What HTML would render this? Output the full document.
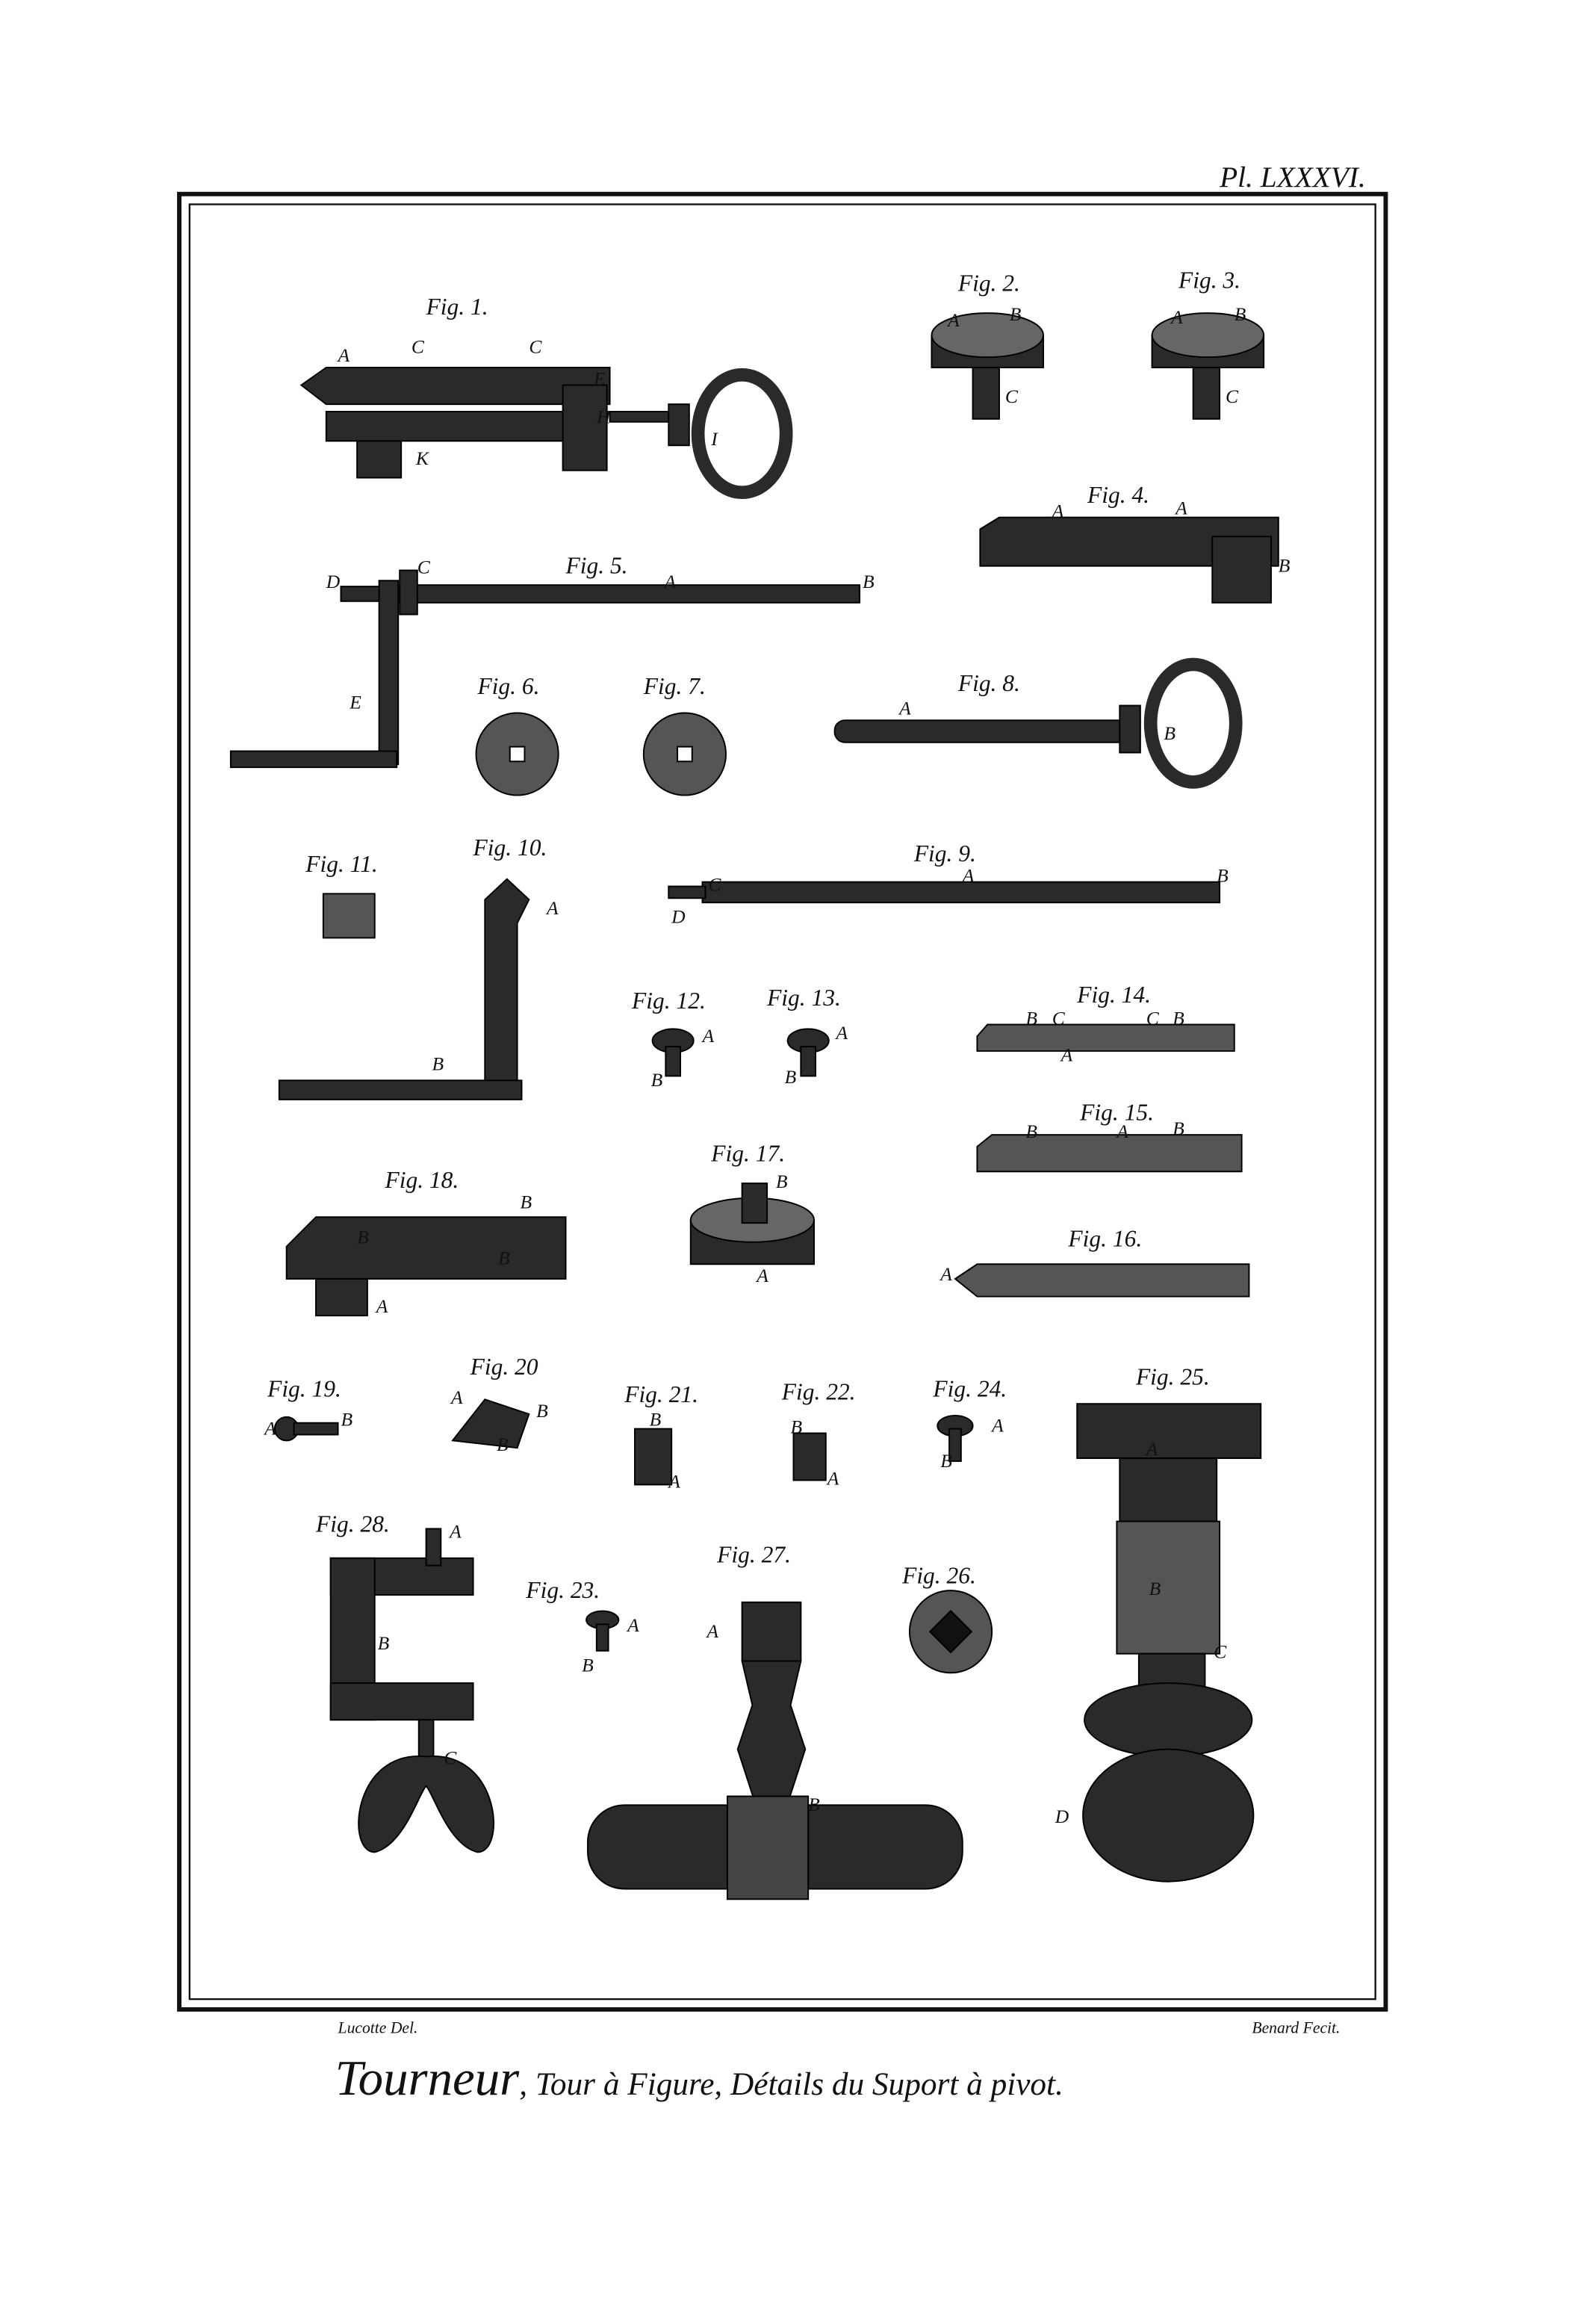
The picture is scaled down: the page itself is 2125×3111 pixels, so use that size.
<!DOCTYPE html>
<html><head><meta charset="utf-8"><style>
html,body{margin:0;padding:0;background:#fff;}
svg{display:block;}
text{font-family:"Liberation Serif",serif;font-style:italic;fill:#111;}
.l{font-size:13px;font-style:normal;}
.f{font-size:16px;}
</style></head><body>
<svg width="2125" height="3111" viewBox="0 0 1080 1581" preserveAspectRatio="none" xmlns="http://www.w3.org/2000/svg">
<rect width="1080" height="1581" fill="#fff"/>
<rect x="122" y="132" width="821" height="1235" fill="none" stroke="#111" stroke-width="3"/>
<rect x="129" y="139" width="807" height="1221" fill="none" stroke="#111" stroke-width="1.2"/>
<text x="830" y="127" font-size="20">Pl. LXXXVI.</text>
<text x="230" y="1383" font-size="11">Lucotte Del.</text>
<text x="852" y="1383" font-size="11">Benard Fecit.</text>
<text x="228" y="1425" font-size="34">Tourneur<tspan font-size="22">, Tour à Figure, Détails du Suport à pivot.</tspan></text>
<g fill="#2a2a2a" stroke="#000" stroke-width="1">
<!-- Fig1 -->
<polygon points="205,262 222,250 415,250 415,275 222,275"/>
<rect x="222" y="280" width="188" height="20"/>
<rect x="383" y="262" width="30" height="58"/>
<rect x="243" y="300" width="30" height="25"/>
<rect x="415" y="280" width="45" height="7"/>
<rect x="455" y="275" width="14" height="28"/>
<ellipse cx="505" cy="295" rx="30" ry="40" fill="none" stroke="#2a2a2a" stroke-width="9"/>
<!-- Fig2,3 -->
<rect x="634" y="228" width="76" height="22"/><ellipse cx="672" cy="228" rx="38" ry="15" fill="#666"/>
<rect x="662" y="250" width="18" height="35"/>
<rect x="784" y="228" width="76" height="22"/><ellipse cx="822" cy="228" rx="38" ry="15" fill="#666"/>
<rect x="812" y="250" width="18" height="35"/>
<!-- Fig4 -->
<polygon points="667,360 680,352 870,352 870,385 667,385"/>
<rect x="825" y="365" width="40" height="45"/>
<!-- Fig5 -->
<rect x="270" y="398" width="315" height="12"/>
<rect x="272" y="388" width="12" height="30"/>
<rect x="232" y="399" width="40" height="10"/>
<rect x="258" y="395" width="13" height="125"/>
<rect x="157" y="511" width="113" height="11"/>
<!-- Fig6,7 -->
<circle cx="352" cy="513" r="28" fill="#555"/><rect x="347" y="508" width="10" height="10" fill="#fff"/>
<circle cx="466" cy="513" r="28" fill="#555"/><rect x="461" y="508" width="10" height="10" fill="#fff"/>
<!-- Fig8 -->
<rect x="568" y="490" width="200" height="15" rx="7"/>
<rect x="762" y="480" width="14" height="32"/>
<ellipse cx="812" cy="492" rx="29" ry="40" fill="none" stroke="#2a2a2a" stroke-width="9"/>
<!-- Fig9 -->
<rect x="478" y="600" width="352" height="14"/>
<rect x="455" y="603" width="25" height="8"/>
<!-- Fig10 -->
<polygon points="345,598 360,612 352,628 352,745 330,745 330,628 330,612"/>
<rect x="190" y="735" width="165" height="13"/>
<!-- Fig11 -->
<rect x="220" y="608" width="35" height="30" fill="#555"/>
<!-- Fig12,13 -->
<ellipse cx="458" cy="708" rx="14" ry="8"/><rect x="453" y="712" width="10" height="20"/>
<ellipse cx="550" cy="708" rx="14" ry="8"/><rect x="545" y="712" width="10" height="20"/>
<!-- Fig14,15,16 -->
<polygon points="665,705 672,697 840,697 840,715 665,715" fill="#555"/>
<polygon points="665,780 675,772 845,772 845,797 665,797" fill="#555"/>
<polygon points="650,870 665,860 850,860 850,882 665,882" fill="#555"/>
<!-- Fig17 -->
<rect x="470" y="830" width="84" height="30"/><ellipse cx="512" cy="830" rx="42" ry="15" fill="#666"/>
<rect x="505" y="805" width="17" height="27"/>
<!-- Fig18 -->
<polygon points="195,848 215,828 385,828 385,870 195,870"/>
<rect x="215" y="870" width="35" height="25"/>
<!-- small figs -->
<circle cx="195" cy="972" r="8"/><rect x="200" y="968" width="30" height="8"/>
<polygon points="308,980 330,952 360,962 352,985"/>
<rect x="432" y="972" width="25" height="38"/>
<rect x="540" y="975" width="22" height="32"/>
<ellipse cx="650" cy="970" rx="12" ry="7"/><rect x="646" y="972" width="8" height="22"/>
<ellipse cx="410" cy="1102" rx="11" ry="6"/><rect x="406" y="1105" width="8" height="18"/>
<!-- Fig25 -->
<rect x="733" y="955" width="125" height="37"/>
<rect x="762" y="992" width="66" height="43"/>
<rect x="760" y="1035" width="70" height="90" fill="#555"/>
<rect x="775" y="1125" width="45" height="30"/>
<ellipse cx="795" cy="1170" rx="57" ry="25"/>
<ellipse cx="795" cy="1235" rx="58" ry="45"/>
<!-- Fig28 -->
<rect x="225" y="1060" width="97" height="25"/>
<rect x="225" y="1060" width="30" height="110"/>
<rect x="225" y="1145" width="97" height="25"/>
<rect x="290" y="1040" width="10" height="25"/>
<rect x="285" y="1170" width="10" height="30"/>
<path d="M290 1195 C240 1190 235 1260 255 1260 C275 1255 285 1220 290 1215 C295 1220 305 1255 325 1260 C345 1260 340 1190 290 1195Z"/>
<!-- Fig27 -->
<rect x="505" y="1090" width="40" height="40"/>
<path d="M505 1130 L545 1130 L538 1160 L548 1190 L535 1230 L515 1230 L502 1190 L512 1160Z"/>
<rect x="400" y="1228" width="255" height="57" rx="25"/>
<rect x="495" y="1222" width="55" height="70" fill="#444"/>
<!-- Fig26 -->
<circle cx="647" cy="1110" r="28" fill="#555"/><rect x="637" y="1100" width="20" height="20" fill="#111" transform="rotate(45 647 1110)"/>
</g>
<g class="f">
<text x="290" y="214">Fig. 1.</text><text x="652" y="198">Fig. 2.</text><text x="802" y="196">Fig. 3.</text>
<text x="740" y="342">Fig. 4.</text><text x="385" y="390">Fig. 5.</text><text x="325" y="472">Fig. 6.</text>
<text x="438" y="472">Fig. 7.</text><text x="652" y="470">Fig. 8.</text><text x="622" y="586">Fig. 9.</text>
<text x="322" y="582">Fig. 10.</text><text x="208" y="593">Fig. 11.</text><text x="430" y="686">Fig. 12.</text>
<text x="522" y="684">Fig. 13.</text><text x="733" y="682">Fig. 14.</text><text x="735" y="762">Fig. 15.</text>
<text x="727" y="848">Fig. 16.</text><text x="484" y="790">Fig. 17.</text><text x="262" y="808">Fig. 18.</text>
<text x="182" y="950">Fig. 19.</text><text x="320" y="935">Fig. 20</text><text x="425" y="954">Fig. 21.</text>
<text x="532" y="952">Fig. 22.</text><text x="635" y="950">Fig. 24.</text><text x="773" y="942">Fig. 25.</text>
<text x="215" y="1042">Fig. 28.</text><text x="358" y="1087">Fig. 23.</text><text x="488" y="1063">Fig. 27.</text>
<text x="614" y="1077">Fig. 26.</text>
</g>
<g class="l">
<text x="230" y="246">A</text><text x="280" y="240">C</text><text x="360" y="240">C</text><text x="404" y="262">E</text>
<text x="406" y="288">H</text><text x="484" y="303">I</text><text x="283" y="316">K</text>
<text x="645" y="222">A</text><text x="687" y="218">B</text><text x="684" y="274">C</text>
<text x="797" y="220">A</text><text x="840" y="218">B</text><text x="834" y="274">C</text>
<text x="716" y="352">A</text><text x="800" y="350">A</text><text x="870" y="389">B</text>
<text x="222" y="400">D</text><text x="284" y="390">C</text><text x="452" y="400">A</text><text x="587" y="400">B</text><text x="238" y="482">E</text>
<text x="612" y="486">A</text><text x="792" y="503">B</text>
<text x="482" y="606">C</text><text x="457" y="628">D</text><text x="655" y="600">A</text><text x="828" y="600">B</text>
<text x="372" y="622">A</text><text x="294" y="728">B</text>
<text x="478" y="709">A</text><text x="443" y="739">B</text><text x="569" y="707">A</text><text x="534" y="737">B</text>
<text x="698" y="697">B</text><text x="716" y="697">C</text><text x="722" y="722">A</text><text x="780" y="697">C</text><text x="798" y="697">B</text>
<text x="698" y="774">B</text><text x="760" y="774">A</text><text x="798" y="772">B</text><text x="640" y="871">A</text>
<text x="528" y="808">B</text><text x="515" y="872">A</text>
<text x="354" y="822">B</text><text x="243" y="846">B</text><text x="339" y="860">B</text><text x="256" y="893">A</text>
<text x="180" y="976">A</text><text x="232" y="970">B</text><text x="307" y="955">A</text><text x="365" y="964">B</text><text x="338" y="987">B</text>
<text x="442" y="970">B</text><text x="455" y="1012">A</text><text x="538" y="975">B</text><text x="563" y="1010">A</text>
<text x="675" y="974">A</text><text x="640" y="998">B</text>
<text x="780" y="990">A</text><text x="782" y="1085">B</text><text x="826" y="1128">C</text><text x="718" y="1240">D</text>
<text x="306" y="1046">A</text><text x="257" y="1122">B</text><text x="302" y="1200">C</text>
<text x="427" y="1110">A</text><text x="396" y="1137">B</text>
<text x="481" y="1114">A</text><text x="550" y="1232">B</text>
</g>
</svg>
</body></html>
